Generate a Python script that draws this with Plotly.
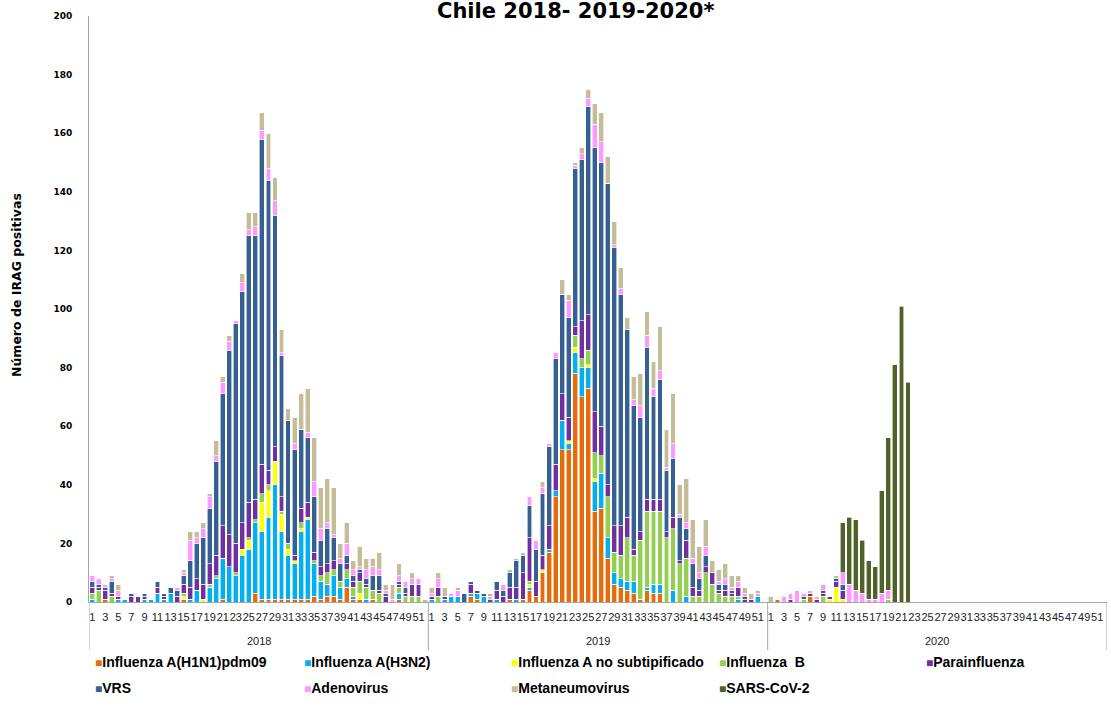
import plotly.graph_objects as go

# ---------------- data ----------------
years = ["2018", "2019", "2020"]
n_weeks = 52
weeks = list(range(1, n_weeks + 1))
week_tick_labels = [str(w) for w in range(1, n_weeks + 1, 2)]

series_names = [
    "Influenza A(H1N1)pdm09", "Influenza A(H3N2)", "Influenza A no subtipificado",
    "Influenza  B", "Parainfluenza", "VRS", "Adenovirus", "Metaneumovirus", "SARS-CoV-2",
]
series_colors = [
    "#E46C0A", "#00B0F0", "#FFFF00", "#92D050", "#7030A0",
    "#376092", "#FF99FF", "#C4BD97", "#4F6228",
]

# 2018
h1n1_2018 = [0,0,1,0,0,0,0,0,0,0, 0,0,0,0,1,0,0,0,0,0, 1,0,0,0,0,3,1,1,1,1,
             1,1,1,1,2,1,2,2,1,5, 1,1,0,1,0,0,0,1,0,0, 0,0]
h3n2_2018 = [1,0,0,0,1,1,0,0,1,1, 3,1,3,0,0,1,4,0,5,8, 14,12,9,16,18,24,23,28,39,23,
             15,12,23,27,11,6,4,7,4,3, 1,0,1,0,0,0,0,2,0,0, 0,0]
fluans_2018 = [0,0,0,0,0,0,0,0,0,0, 0,0,0,0,1,0,0,1,0,0, 0,0,0,2,3,0,10,9,8,6,
               2,1,1,1,0,0,0,0,0,0, 0,2,0,0,0,0,0,0,0,0, 0,0]
flub_2018 = [2,4,0,2,0,0,0,0,0,0, 0,0,0,0,1,0,0,0,1,1, 0,0,1,0,1,1,3,2,0,1,
             2,0,2,0,1,2,4,2,2,3, 3,4,4,3,3,0,0,2,2,2, 2,0]
para_2018 = [2,1,3,1,1,0,2,2,1,0, 2,1,0,2,3,4,4,5,7,7, 11,11,10,9,12,7,10,5,5,5,
             0,2,5,5,3,3,3,3,0,2, 2,3,1,0,1,2,0,1,1,4, 4,0]
vrs_2018 = [2,1,1,4,0,0,1,0,1,0, 2,1,2,2,3,9,12,16,19,32, 45,63,75,79,91,90,111,99,79,48,
            42,36,27,22,19,9,12,8,6,3, 2,1,2,5,5,1,0,1,2,0, 0,0]
adeno_2018 = [2,2,1,1,2,0,0,0,0,0, 0,0,0,1,1,7,2,3,4,2, 4,3,1,3,2,3,3,4,5,1,
              0,2,0,2,5,4,2,1,2,4, 2,1,3,3,2,1,1,2,2,2, 2,0]
meta_2018 = [0,0,0,1,2,0,0,0,0,0, 0,0,0,0,1,3,2,2,1,5, 2,2,0,3,6,5,6,12,8,8,
             4,9,12,15,15,14,15,16,5,7, 3,7,4,3,6,2,5,4,0,2, 0,1]
sars_2018 = [0] * 52

# 2019
h1n1_2019 = [0,0,0,0,0,0,2,1,0,0, 0,0,1,0,1,4,2,10,17,36, 52,52,78,70,73,31,32,15,6,5,
             4,3,1,4,3,3,0,0,0,0, 0,0,0,0,0,0,0,0,0,0, 0,0]
h3n2_2019 = [1,0,1,2,2,0,1,2,2,0, 1,0,0,1,0,1,0,0,1,2, 10,2,7,10,7,10,12,7,4,3,
             3,4,0,1,3,3,0,4,0,2, 0,0,0,0,0,0,0,1,0,0, 2,0]
fluans_2019 = [0,0,0,0,0,0,0,0,0,0, 0,0,0,0,0,1,0,1,0,0, 0,1,2,0,1,1,0,0,0,0,
               0,0,0,0,0,0,0,0,0,0, 0,0,0,0,0,0,0,0,0,0, 0,0]
flub_2019 = [0,2,0,0,0,0,0,0,0,0, 0,0,0,0,0,1,0,0,0,0, 0,0,4,3,5,9,6,14,7,8,
             15,9,20,26,25,25,22,21,13,13, 2,2,10,6,3,2,2,1,0,0, 0,0]
para_2019 = [1,3,1,0,0,0,3,1,0,0, 3,2,4,4,9,15,5,5,8,9, 9,8,3,13,12,14,10,4,9,10,
             7,2,3,4,4,4,2,4,1,6, 3,2,2,4,1,2,1,3,1,1, 0,0]
vrs_2019 = [0,0,0,0,0,3,1,0,1,1, 3,2,5,9,6,11,11,21,27,36, 34,34,54,55,71,90,90,103,95,79,
            64,49,39,52,35,41,21,20,15,4, 8,4,4,0,2,2,1,0,1,0, 0,0]
adeno_2019 = [1,3,0,1,2,0,0,0,0,1, 0,2,0,0,0,3,3,2,1,2, 0,6,1,2,3,8,7,0,1,2,
              0,2,4,4,3,3,1,5,1,2, 2,2,3,0,1,2,1,2,1,0, 1,0]
meta_2019 = [2,2,3,0,1,0,0,0,0,1, 0,0,1,1,1,0,0,2,0,0, 5,2,1,2,3,7,10,9,8,7,
             4,8,11,8,9,15,13,17,10,15, 13,9,9,4,4,5,4,2,2,2, 1,0]
sars_2019 = [0] * 52

# 2020
h1n1_2020 = [0,1,0,0,0,0,2,0,0,0, 0,0,0,0,0,0,0,0,0,0, 0,0] + [0] * 30
h3n2_2020 = [0] * 52
fluans_2020 = [0,0,0,0,0,0,0,0,0,1, 5,1,0,0,0,0,0,0,0,0, 0,0] + [0] * 30
flub_2020 = [0,0,0,0,0,1,0,0,2,0, 0,0,0,0,0,0,0,0,1,0, 0,0] + [0] * 30
para_2020 = [0,0,0,1,0,0,1,1,1,1, 2,3,0,0,0,0,0,0,0,0, 0,0] + [0] * 30
vrs_2020 = [0,0,0,0,0,1,0,0,1,0, 1,2,0,0,0,0,0,0,0,0, 0,0] + [0] * 30
adeno_2020 = [0,0,2,2,4,1,1,1,2,0, 0,4,6,4,3,1,1,3,3,0, 0,0] + [0] * 30
meta_2020 = [2,0,0,0,0,0,0,0,0,0, 1,0,0,0,0,0,0,0,0,0, 0,0] + [0] * 30
sars_2020 = [0,0,0,0,0,0,0,0,0,0, 0,17,23,24,18,13,11,35,52,81, 101,75] + [0] * 30

series_values = [
    h1n1_2018 + h1n1_2019 + h1n1_2020,
    h3n2_2018 + h3n2_2019 + h3n2_2020,
    fluans_2018 + fluans_2019 + fluans_2020,
    flub_2018 + flub_2019 + flub_2020,
    para_2018 + para_2019 + para_2020,
    vrs_2018 + vrs_2019 + vrs_2020,
    adeno_2018 + adeno_2019 + adeno_2020,
    meta_2018 + meta_2019 + meta_2020,
    sars_2018 + sars_2019 + sars_2020,
]

# ---------------- figure ----------------
W, H = 1111, 723
L, R, T, B = 89, 4, 16, 121
PW, PH = W - L - R, H - T - B


def px_to_paper_x(px):
    return (px - L) / PW


def px_to_paper_y(py):
    return (H - B - py) / PH


x_pos = [yi * n_weeks + w for yi in range(len(years)) for w in weeks]
hover_lbl = [f"{yr} - semana {w}" for yr in years for w in weeks]

fig = go.Figure()
for name, color, vals in zip(series_names, series_colors, series_values):
    fig.add_trace(go.Bar(
        x=x_pos, y=vals, name=name, customdata=hover_lbl,
        hovertemplate="%{customdata}<br>" + name + ": %{y}<extra></extra>",
        marker=dict(color=color, line=dict(color="white", width=0.6)),
        showlegend=False,
    ))

tickvals = [yi * n_weeks + int(t) for yi in range(len(years)) for t in week_tick_labels]
ticktext = [t for _ in years for t in week_tick_labels]

shapes = []
for k in range(len(years) + 1):
    xb = k * n_weeks + 0.5
    shapes.append(dict(type="line", xref="x", yref="paper", x0=xb, x1=xb,
                       y0=0, y1=px_to_paper_y(650), line=dict(color="#A6A6A6", width=1)))

annotations = []
for yi, yr in enumerate(years):
    annotations.append(dict(x=yi * n_weeks + (n_weeks + 1) / 2, y=px_to_paper_y(641),
                            xref="x", yref="paper", text=yr, showarrow=False,
                            xanchor="center", yanchor="middle",
                            font=dict(family="Liberation Sans", size=11, color="#222")))

annotations.append(dict(x=px_to_paper_x(575), y=px_to_paper_y(11), xref="paper", yref="paper",
                        text="<b>Chile 2018- 2019-2020*</b>", showarrow=False,
                        yanchor="middle", xanchor="center",
                        font=dict(family="DejaVu Sans", size=21, color="black")))

annotations.append(dict(x=px_to_paper_x(17), y=px_to_paper_y(285), xref="paper", yref="paper",
                        text="<b>Número de IRAG positivas</b>", showarrow=False, textangle=-90,
                        xanchor="center", yanchor="middle",
                        font=dict(family="DejaVu Sans", size=12.5, color="black")))

# legend built as text entries (coloured square + name)
legend_pos = [(93, 662), (302, 662), (509, 662), (717, 662), (924, 662),
              (93, 688), (302, 688), (509, 688), (717, 688)]
for (lx, ly), name, color in zip(legend_pos, series_names, series_colors):
    annotations.append(dict(
        x=px_to_paper_x(lx), y=px_to_paper_y(ly), xref="paper", yref="paper",
        xanchor="left", yanchor="middle", showarrow=False,
        text=f"<span style='color:{color};font-size:12px'>■</span><b>{name.replace('  ', '&nbsp; ')}</b>",
        font=dict(family="Liberation Sans Narrow, Liberation Sans", size=14, color="black"),
    ))

fig.update_layout(
    width=W, height=H,
    margin=dict(l=L, r=R, t=T, b=B, pad=0),
    paper_bgcolor="white", plot_bgcolor="white",
    barmode="stack", bargap=0.25,
    showlegend=False,
    xaxis=dict(range=[0.5, len(years) * n_weeks + 0.5], tickmode="array",
               tickvals=tickvals, ticktext=ticktext, tickangle=0,
               showgrid=False, zeroline=False, showline=True, linecolor="#A6A6A6", linewidth=1,
               ticks="outside", ticklen=5, tickcolor="rgba(0,0,0,0)",
               tickfont=dict(family="Liberation Sans", size=11, color="#222")),
    yaxis=dict(range=[0, 200], dtick=20, showgrid=False, zeroline=False,
               showline=True, linecolor="#A6A6A6", linewidth=1,
               ticks="outside", ticklen=14, tickcolor="rgba(0,0,0,0)",
               tickfont=dict(family="DejaVu Sans", size=9, color="black", weight="bold")),
    shapes=shapes,
    annotations=annotations,
)

fig.write_html("out.html", config={"displayModeBar": False},
               post_script="document.body.style.margin='0px';")
